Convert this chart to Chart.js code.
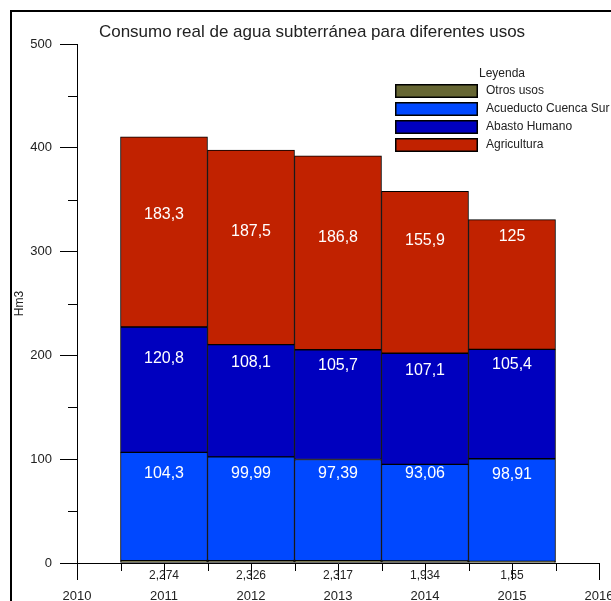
<!DOCTYPE html>
<html>
<head>
<meta charset="utf-8">
<script src="https://cdn.jsdelivr.net/npm/chart.js@4.4.1/dist/chart.umd.min.js"></script>
<style>
  html, body { margin: 0; padding: 0; background: #fff; }
  #wrap { width: 611px; height: 601px; }
</style>
</head>
<body>
<div id="wrap"><canvas id="chart" width="611" height="601"></canvas></div>
<script>
// Consumo por uso, Hm3 (de abajo hacia arriba en cada barra)
const years = [2011, 2012, 2013, 2014, 2015];
const otrosUsos = [2.274, 2.326, 2.317, 1.934, 1.55];
const acueducto = [104.3, 99.99, 97.39, 93.06, 98.91];
const abasto = [120.8, 108.1, 105.7, 107.1, 105.4];
const agricultura = [183.3, 187.5, 186.8, 155.9, 125];
const seriesNames = ['Otros usos', 'Acueducto Cuenca Sur', 'Abasto Humano', 'Agricultura'];
const seriesColors = ['#666633', '#0048ff', '#0000bf', '#c12200'];

const FONT = '"Liberation Sans", Arial, sans-serif';
const comma = v => String(v).replace('.', ',');

// height above the segment base where each value text sits (Hm3)
const labelRise = [0, 84, 90.5, 108.5];

const toPoints = arr => years.map((x, i) => ({ x, y: arr[i] }));

const decor = {
  id: 'decor',
  afterDraw(chart) {
    const { ctx, chartArea: area, scales: { x, y } } = chart;
    ctx.save();

    // frame
    ctx.fillStyle = '#000';
    ctx.fillRect(10, 10, 601, 2);
    ctx.fillRect(10, 10, 2, 591);

    // minor ticks
    ctx.strokeStyle = '#000';
    ctx.lineWidth = 1;
    ctx.beginPath();
    for (let v = 50; v < 500; v += 100) {
      const py = Math.round(y.getPixelForValue(v)) + 0.5;
      ctx.moveTo(area.left - 9, py);
      ctx.lineTo(area.left, py);
    }
    for (let t = 2010.5; t < 2016; t += 1) {
      const px = Math.round(x.getPixelForValue(t)) + 0.5;
      ctx.moveTo(px, area.bottom);
      ctx.lineTo(px, area.bottom + 8);
    }
    ctx.stroke();

    // title
    ctx.fillStyle = '#222';
    ctx.font = '17px ' + FONT;
    ctx.textAlign = 'center';
    ctx.textBaseline = 'alphabetic';
    ctx.fillText('Consumo real de agua subterránea para diferentes usos', 312, 37);

    // values
    ctx.textBaseline = 'middle';
    const sets = chart.data.datasets;
    sets.forEach((ds, di) => {
      const meta = chart.getDatasetMeta(di);
      meta.data.forEach((bar, i) => {
        const val = ds.data[i].y;
        if (di === 0) {
          ctx.fillStyle = '#222';
          ctx.font = '12px ' + FONT;
          ctx.fillText(comma(val), bar.x, area.bottom + 13);
        } else {
          let base = 0;
          for (let k = 0; k < di; k++) base += sets[k].data[i].y;
          ctx.fillStyle = '#fff';
          ctx.font = '16px ' + FONT;
          ctx.fillText(comma(val), bar.x, y.getPixelForValue(base + labelRise[di]));
        }
      });
    });

    // legend
    ctx.textAlign = 'left';
    ctx.fillStyle = '#222';
    ctx.font = '12px ' + FONT;
    ctx.fillText('Leyenda', 479, 74);
    sets.forEach((ds, di) => {
      const top = 84 + di * 18;
      ctx.fillStyle = ds.backgroundColor;
      ctx.fillRect(395, top, 83, 14);
      ctx.lineWidth = 1.5;
      ctx.strokeStyle = '#000';
      ctx.strokeRect(395.75, top + 0.75, 81.5, 12.5);
      ctx.fillStyle = '#222';
      ctx.fillText(ds.label, 486, top + 7);
    });

    ctx.restore();
  }
};

const datasets = [otrosUsos, acueducto, abasto, agricultura].map((arr, i) => ({
  label: seriesNames[i],
  data: toPoints(arr),
  backgroundColor: seriesColors[i],
  borderColor: '#000',
  borderWidth: 1,
  borderSkipped: false,
  barPercentage: 1,
  categoryPercentage: 1
}));

new Chart(document.getElementById('chart'), {
  type: 'bar',
  data: { datasets },
  options: {
    responsive: false,
    animation: false,
    events: [],
    layout: { padding: { top: 44, right: 12, left: 0, bottom: 0 } },
    plugins: {
      legend: { display: false },
      title: { display: false },
      tooltip: { enabled: false }
    },
    scales: {
      x: {
        type: 'linear',
        stacked: true,
        min: 2010,
        max: 2016,
        offset: false,
        grid: { offset: false, drawOnChartArea: false, drawTicks: true, tickLength: 17, color: '#000' },
        border: { display: true, color: '#000', width: 1 },
        ticks: {
          stepSize: 1,
          padding: 9,
          color: '#222',
          font: { family: FONT, size: 13 },
          maxRotation: 0,
          callback: v => String(v)
        },
        afterFit(scale) {
          scale.height = 38;
          scale.paddingLeft = 0;
          scale.paddingRight = 0;
        }
      },
      y: {
        stacked: true,
        min: 0,
        max: 500,
        grid: { drawOnChartArea: false, drawTicks: true, tickLength: 17, color: '#000' },
        border: { display: true, color: '#000', width: 1 },
        ticks: {
          stepSize: 100,
          padding: 8,
          color: '#222',
          font: { family: FONT, size: 13 }
        },
        title: {
          display: true,
          text: 'Hm3',
          color: '#222',
          font: { family: FONT, size: 12 },
          padding: { top: 12, bottom: 0 }
        },
        afterFit(scale) {
          scale.width = 77;
          scale.paddingTop = 0;
          scale.paddingBottom = 0;
        }
      }
    }
  },
  plugins: [decor]
});
</script>
</body>
</html>
